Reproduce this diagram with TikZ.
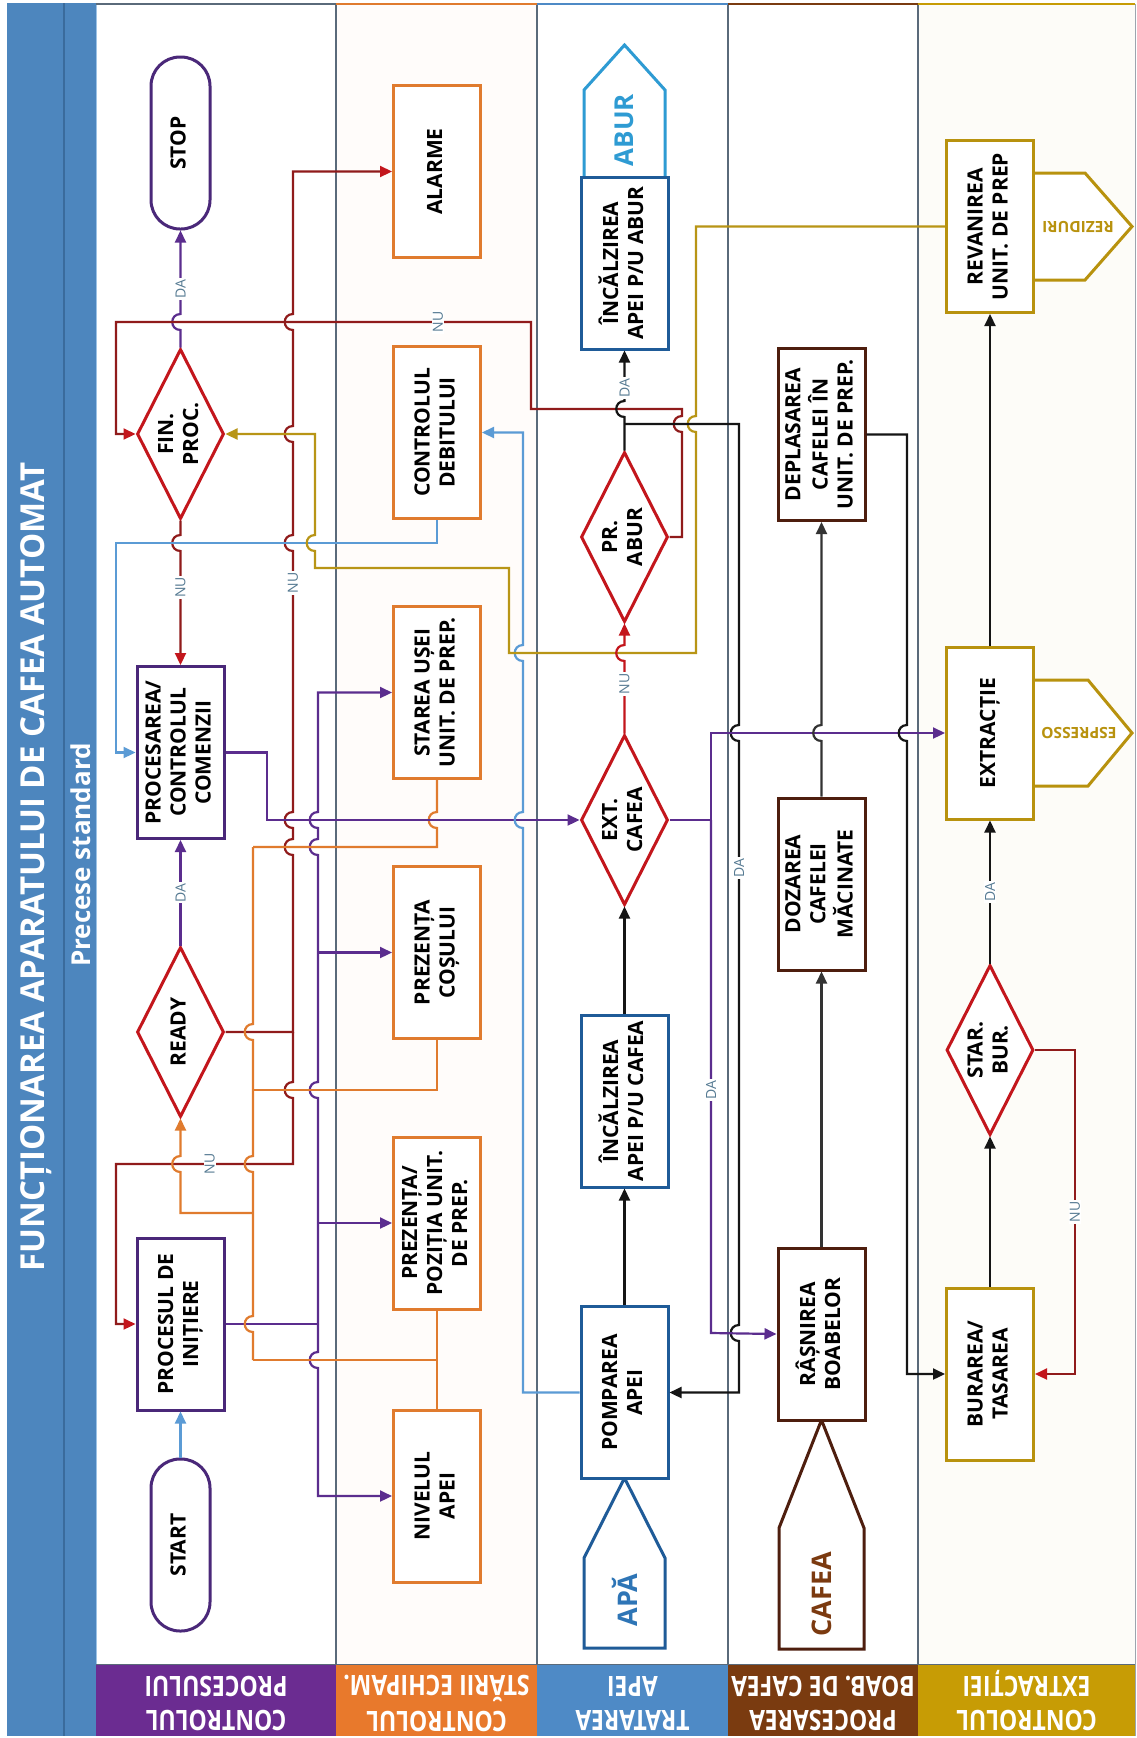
\documentclass[tikz,border=0pt]{standalone}
\usepackage{fontspec}
\setmainfont{Open Sans}
\usetikzlibrary{arrows.meta,shapes.geometric}
\definecolor{titleblue}{HTML}{4D86BE}
\definecolor{titledark}{HTML}{3A6B9C}
\definecolor{lnpurple}{HTML}{5B2D8E}
\definecolor{boxpurple}{HTML}{4A2879}
\definecolor{lnred}{HTML}{901B1B}
\definecolor{dred}{HTML}{C3161C}
\definecolor{orng}{HTML}{E07B2E}
\definecolor{wblue}{HTML}{1F5B98}
\definecolor{lblue}{HTML}{5B9BD5}
\definecolor{sblue}{HTML}{2E9BD3}
\definecolor{apablue}{HTML}{2E75B6}
\definecolor{brwn}{HTML}{4E1E0E}
\definecolor{cafebr}{HTML}{7B3A10}
\definecolor{gold}{HTML}{B8920E}
\definecolor{goldln}{HTML}{B89516}
\definecolor{lbl}{HTML}{557A92}
\definecolor{lane}{HTML}{5A6A7A}
\definecolor{hpurple}{HTML}{6B2C91}
\definecolor{horange}{HTML}{E8792C}
\definecolor{hblue}{HTML}{4E8AC6}
\definecolor{hbrown}{HTML}{7A3B10}
\definecolor{hgold}{HTML}{C79C05}
\definecolor{blk}{HTML}{151515}
\definecolor{blk2}{HTML}{333333}
\newcommand\rtxt[1]{\rotatebox{90}{\begin{tabular}{@{}c@{}}#1\end{tabular}}}
\newcommand\jmpd[2]{-- (#1,#2-8) .. controls (#1-11,#2-8) and (#1-11,#2+8) .. (#1,#2+8)}
\newcommand\jmpu[2]{-- (#1,#2+8) .. controls (#1-11,#2+8) and (#1-11,#2-8) .. (#1,#2-8)}
\begin{document}
\begin{tikzpicture}[x=1pt,y=-1pt,
  conn/.style={line width=2.2pt},
  arr/.style={-{Triangle[length=12pt,width=11pt]}},
  rarr/.style={-{Triangle[length=12pt,width=11pt,color=dred]}},
  bx/.style={draw, line width=3pt, fill=white, minimum width=87pt, minimum height=172pt, inner sep=0pt, font=\bfseries\fontsize{21}{25}\selectfont},
  dia/.style={diamond, draw=dred, line width=3pt, fill=white, minimum width=87pt, minimum height=170pt, inner sep=0pt},
  dtxt/.style={font=\bfseries\fontsize{21}{25}\selectfont, inner sep=0pt},
  term/.style={draw=boxpurple, line width=3pt, fill=white, rounded corners=29pt, minimum width=59pt, minimum height=172pt, inner sep=0pt, font=\bfseries\fontsize{21}{25}\selectfont},
  lab/.style={font=\fontsize{14}{14}\selectfont, text=lbl, fill=white, inner sep=1.2pt, rotate=90},
  hdr/.style={text=white, font=\bfseries\fontsize{28}{34}\selectfont, rotate=180, inner sep=0pt},
  offp/.style={line width=3pt, fill=white, line join=miter},
]
\useasboundingbox (0,0) rectangle (1137,1738);
\fill[white] (0,0) rectangle (1137,1738);
% title bar
\fill[titleblue] (7,3) rectangle (96,1736);
\draw[titledark, line width=1.2pt] (64,3) -- (64,1736);
\node[rotate=90, text=white, font=\bfseries\fontsize{33}{33}\selectfont] (title) at (36,867) {FUNCȚIONAREA APARATULUI DE CAFEA AUTOMAT};
\node[rotate=90, text=white, font=\bfseries\fontsize{26}{26}\selectfont] (sub) at (81,855) {Precese standard};
% lanes
\fill[white] (96,4) rectangle (1135,1664);
\fill[orange!2] (336,4) rectangle (537,1664);
\fill[hgold!3] (918,4) rectangle (1135,1664);
\fill[hpurple] (96,1664) rectangle (336,1736);
\fill[horange] (336,1664) rectangle (537,1736);
\fill[hblue] (537,1664) rectangle (728,1736);
\fill[hbrown] (728,1664) rectangle (918,1736);
\fill[hgold] (918,1664) rectangle (1135,1736);
\node[hdr] (h1) at (216,1700) {\scalebox{0.82}[1]{\begin{tabular}{@{}c@{}}CONTROLUL\\PROCESULUI\end{tabular}}};
\node[hdr] (h2) at (436.5,1700) {\scalebox{0.82}[1]{\begin{tabular}{@{}c@{}}CONTROLUL\\STĂRII ECHIPAM.\end{tabular}}};
\node[hdr] (h3) at (632.5,1700) {\scalebox{0.82}[1]{\begin{tabular}{@{}c@{}}TRATAREA\\APEI\end{tabular}}};
\node[hdr] (h4) at (823,1700) {\scalebox{0.82}[1]{\begin{tabular}{@{}c@{}}PROCESAREA\\BOAB. DE CAFEA\end{tabular}}};
\node[hdr] (h5) at (1026.5,1700) {\scalebox{0.82}[1]{\begin{tabular}{@{}c@{}}CONTROLUL\\EXTRACȚIEI\end{tabular}}};
\draw[lane, line width=1.6pt] (336,4) -- (336,1664);
\draw[lane, line width=1.6pt] (537,4) -- (537,1664);
\draw[lane, line width=1.6pt] (728,4) -- (728,1664);
\draw[lane, line width=1.6pt] (918,4) -- (918,1664);
\draw[lane, line width=1pt] (96,1664) -- (1135,1664);
\draw[lblue!60, line width=1pt] (96.5,4) -- (96.5,1664);
\draw[lane!60, line width=0.8pt] (1135,4) -- (1135,1736);
\draw[lane, line width=2pt] (96,4) -- (336,4);
\draw[orng, line width=2pt] (336,4) -- (537,4);
\draw[hblue, line width=2pt] (537,4) -- (728,4);
\draw[hbrown, line width=2pt] (728,4) -- (918,4);
\draw[hgold, line width=2pt] (918,4) -- (1135,4);

% off-page shapes
\filldraw[offp, draw=sblue] (584,177) -- (584,90) -- (624.5,45) -- (665,90) -- (665,177);
\node[rotate=90, text=sblue, font=\bfseries\fontsize{26}{26}\selectfont] (aburT) at (624.5,130) {ABUR};
\filldraw[offp, draw=wblue] (624.5,1478) -- (665,1558) -- (665,1648) -- (584,1648) -- (584,1558) -- cycle;
\node[rotate=90, text=apablue, font=\bfseries\fontsize{27}{27}\selectfont] (apaT) at (624.5,1600) {APĂ};
\filldraw[offp, draw=brwn] (821.5,1420) -- (864,1528) -- (864,1649) -- (779,1649) -- (779,1528) -- cycle;
\node[rotate=90, text=cafebr, font=\bfseries\fontsize{27}{27}\selectfont] (cafeaT) at (821.5,1594) {CAFEA};
\filldraw[offp, draw=gold] (1034,173) -- (1085,173) -- (1132,226.5) -- (1085,280) -- (1034,280);
\node[rotate=180, text=gold, font=\bfseries\fontsize{15.5}{15.5}\selectfont] (rezT) at (1078,226.5) {REZIDURI};
\filldraw[offp, draw=gold] (1034,680) -- (1088,680) -- (1132,733) -- (1088,786) -- (1034,786);
\node[rotate=180, text=gold, font=\bfseries\fontsize{15.5}{15.5}\selectfont] (espT) at (1079,733) {ESPRESSO};

% lane 1 nodes
\node[term] (stop) at (180.5,143) {\rtxt{STOP}};
\node[dia] (fin) at (180.5,434) {};
\node[dtxt] (finT) at (fin.center) {\rtxt{FIN.\\PROC.}};
\node[bx, draw=boxpurple] (procc) at (180.5,752.5) {\rtxt{PROCESAREA/\\CONTROLUL\\COMENZII}};
\node[dia] (ready) at (180.5,1032) {};
\node[dtxt] (readyT) at (ready.center) {\rtxt{READY}};
\node[bx, draw=boxpurple] (init) at (180.5,1324) {\rtxt{PROCESUL DE\\INIȚIERE}};
\node[term] (start) at (180.5,1545) {\rtxt{START}};
% lane 2 nodes
\node[bx, draw=orng] (alarme) at (437,171.5) {\rtxt{ALARME}};
\node[bx, draw=orng] (debit) at (437,432.5) {\rtxt{CONTROLUL\\DEBITULUI}};
\node[bx, draw=orng] (usa) at (437,692.5) {\rtxt{STAREA UȘEI\\UNIT. DE PREP.}};
\node[bx, draw=orng] (cos) at (437,952.5) {\rtxt{PREZENȚA\\COȘULUI}};
\node[bx, draw=orng] (poz) at (437,1223) {\rtxt{PREZENȚA/\\POZIȚIA UNIT.\\DE PREP.}};
\node[bx, draw=orng] (nivel) at (437,1496) {\rtxt{NIVELUL\\APEI}};
% lane 3 nodes
\node[bx, draw=wblue] (incab) at (624.5,263) {\rtxt{ÎNCĂLZIREA\\APEI P/U ABUR}};
\node[dia] (prabur) at (624.5,537) {};
\node[dtxt] (praburT) at (prabur.center) {\rtxt{PR.\\ABUR}};
\node[dia] (extc) at (624.5,820) {};
\node[dtxt] (extcT) at (extc.center) {\rtxt{EXT.\\CAFEA}};
\node[bx, draw=wblue] (incc) at (624.5,1101) {\rtxt{ÎNCĂLZIREA\\APEI P/U CAFEA}};
\node[bx, draw=wblue] (pomp) at (624.5,1392.5) {\rtxt{POMPAREA\\APEI}};
% lane 4 nodes
\node[bx, draw=brwn] (depl) at (821.5,434.5) {\rtxt{DEPLASAREA\\CAFELEI ÎN\\UNIT. DE PREP.}};
\node[bx, draw=brwn] (doz) at (821.5,884) {\rtxt{DOZAREA\\CAFELEI\\MĂCINATE}};
\node[bx, draw=brwn] (rasn) at (821.5,1334) {\rtxt{RÂȘNIREA\\BOABELOR}};
% lane 5 nodes
\node[bx, draw=gold] (revan) at (990,226.5) {\rtxt{REVANIREA\\UNIT. DE PREP}};
\node[bx, draw=gold] (extr) at (990,733) {\rtxt{EXTRACȚIE}};
\node[dia] (starb) at (990,1050) {};
\node[dtxt] (starbT) at (starb.center) {\rtxt{STAR.\\BUR.}};
\node[bx, draw=gold] (bur) at (990,1374) {\rtxt{BURAREA/\\TASAREA}};

% ---- connectors: lane 1
\draw[lblue, conn, arr] (start.north) -- (init.south);
\draw[lnpurple, conn] (init.east) -- (318,1324);
\draw[lnpurple, conn, arr] (318,1324) \jmpu{318}{1090} \jmpu{318}{847} \jmpu{318}{820} -- (318,692.5) -- (usa.west);
\draw[lnpurple, conn, arr] (318,1324) \jmpd{318}{1360} -- (318,1496) -- (nivel.west);
\draw[lnpurple, conn, arr] (318,952.5) -- (cos.west);
\draw[lnpurple, conn, arr] (318,1223) -- (poz.west);
\draw[lnpurple, conn, arr] (ready.north) -- node[lab]{DA} (procc.south);
\draw[lnpurple, conn, arr] (fin.north) \jmpu{180.5}{322} -- node[lab, pos=0.3]{DA} (stop.south);
\draw[lnred, conn, rarr] (fin.south) \jmpd{180.5}{543} -- node[lab, pos=0.32]{NU} (procc.north);
\draw[lnred, conn, rarr] (ready.east) -- (293,1032) \jmpu{293}{847} \jmpu{293}{820} \jmpu{293}{543} \jmpu{293}{434} \jmpu{293}{322} -- (293,171.5) -- (alarme.west);
\node[lab] (nuA) at (293,583) {NU};
\draw[lnred, conn, rarr] (293,1032) \jmpd{293}{1090} -- (293,1164) -- node[lab, pos=0.47]{NU} (116,1164) -- (116,1324) -- (init.west);
% orange status lines
\draw[orng, conn] (usa.south) \jmpd{437}{820} -- (437,847) -- (253,847);
\draw[orng, conn] (cos.south) -- (437,1090) -- (253,1090);
\draw[orng, conn] (poz.south) -- (nivel.north);
\draw[orng, conn] (437,1360) -- (253,1360);
\draw[orng, conn] (253,847) \jmpd{253}{1032} \jmpd{253}{1164} \jmpd{253}{1324} -- (253,1360);
\draw[orng, conn, arr] (253,1213) -- (180.5,1213) \jmpu{180.5}{1164} -- (ready.south);
% PROCESAREA -> EXT. CAFEA
\draw[lnpurple, conn, arr] (procc.east) -- (267,752.5) -- (267,820) -- (extc.west);
% blue
\draw[lblue, conn, arr] (debit.south) -- (437,543) -- (116,543) -- (116,752.5) -- (procc.west);
\draw[lblue, conn, arr] (pomp.west) -- (523,1392.5) \jmpu{523}{820} \jmpu{523}{653} -- (523,432.5) -- (debit.east);
% gold
\draw[goldln, conn, arr] (revan.west) -- (696,226.5) \jmpd{696}{424} -- (696,653) -- (509,653) -- (509,568) -- (315,568) \jmpu{315}{543} -- (315,434) -- (fin.east);
% NU from PR. ABUR
\draw[lnred, conn, rarr] (prabur.east) -- (682,537) \jmpu{682}{424} -- (682,409) -- (531,409) -- (531,322) -- node[lab, pos=0.224]{NU} (116,322) -- (116,434) -- (fin.west);
% lane 3 black
\draw[blk, conn, arr] (pomp.north) -- (incc.south);
\draw[blk, conn, arr] (incc.north) -- (extc.south);
\draw[dred, conn, rarr] (extc.north) \jmpu{624.5}{653} -- (prabur.south);
\node[lab] (nuB) at (624.5,684) {NU};
\draw[blk, conn, arr] (prabur.north) -- (624.5,424) \jmpu{624.5}{409} -- (incab.south);
\node[lab] (daB) at (624.5,388) {DA};
\draw[blk, conn, arr] (624.5,424) -- (739,424) \jmpd{739}{733} \jmpd{739}{1333} -- (739,1392.5) -- (pomp.east);
\node[lab] (daC) at (739,868) {DA};
% EXT. CAFEA DA
\draw[lnpurple, conn] (extc.east) -- (711,820);
\draw[lnpurple, conn, arr] (711,820) -- (711,733) -- (extr.west);
\draw[lnpurple, conn, arr] (711,820) -- (711,1333) -- (rasn.west);
\node[lab] (daD) at (711,1090) {DA};
% lane 4
\draw[blk2, conn, arr] (rasn.north) -- (doz.south);
\draw[blk2, conn, arr] (doz.north) \jmpu{821.5}{733} -- (depl.south);
\draw[blk, conn, arr] (depl.east) -- (907,434.5) \jmpd{907}{733} -- (907,1374) -- (bur.west);
% lane 5
\draw[blk, conn, arr] (bur.north) -- (starb.south);
\draw[blk, conn, arr] (starb.north) -- node[lab]{DA} (extr.south);
\draw[blk, conn, arr] (extr.north) -- (revan.south);
\draw[lnred, conn, rarr] (starb.east) -- (1075,1050) -- node[lab, pos=0.5]{NU} (1075,1374) -- (bur.east);
\end{tikzpicture}
\end{document}
